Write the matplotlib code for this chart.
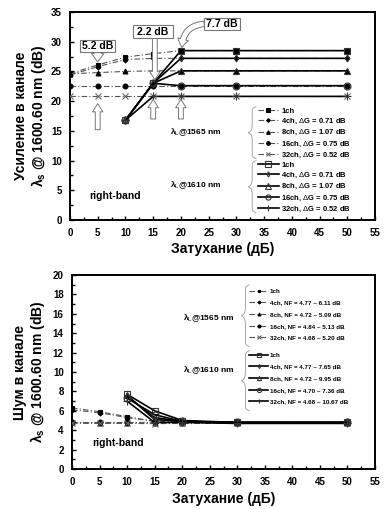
import numpy as np
import matplotlib
matplotlib.use('Agg')
import matplotlib.pyplot as plt
from matplotlib.lines import Line2D
from matplotlib.patches import FancyBboxPatch

plt.rcParams['font.family'] = ['Liberation Sans', 'DejaVu Sans']
plt.rcParams['mathtext.fontset'] = 'custom'
plt.rcParams['mathtext.rm'] = 'Liberation Sans'
plt.rcParams['mathtext.it'] = 'Liberation Sans:bold'
plt.rcParams['mathtext.bf'] = 'Liberation Sans:bold'

# attenuation points (dB)
x_1565 = [0, 5, 10, 15, 20, 30, 50]
x_1610 = [10, 15, 20, 30, 50]
channels = ['1ch', '4ch', '8ch', '16ch', '32ch']

# gain, pump @1565 nm
gain_1565 = {
    '1ch': [24.6, 26.1, 27.4, 28.0, 28.5, 28.5, 28.5],
    '4ch': [24.4, 25.8, 27.0, 27.2, 27.2, 27.2, 27.2],
    '8ch': [24.6, 24.8, 25.0, 25.1, 25.1, 25.1, 25.1],
    '16ch': [22.6, 22.6, 22.6, 22.6, 22.6, 22.6, 22.6],
    '32ch': [20.8, 20.8, 20.8, 20.8, 20.8, 20.8, 20.8],
}
# gain, pump @1610 nm
gain_1610 = {
    '1ch': [16.8, 23.0, 28.5, 28.5, 28.5],
    '4ch': [16.8, 23.0, 27.2, 27.2, 27.2],
    '8ch': [16.8, 23.0, 25.1, 25.1, 25.1],
    '16ch': [16.8, 23.0, 22.6, 22.6, 22.6],
    '32ch': [16.8, 20.8, 20.8, 20.8, 20.8],
}
dG = ['', '0.71', '1.07', '0.75', '0.52']

# noise figure, pump @1565 nm
nf_1565 = {
    '1ch': [6.3, 5.9, 5.4, 4.9, 4.8, 4.8, 4.8],
    '4ch': [6.1, 5.8, 5.3, 4.9, 4.8, 4.8, 4.77],
    '8ch': [4.8, 4.75, 4.75, 4.72, 4.75, 4.75, 4.75],
    '16ch': [4.84, 4.84, 4.84, 4.84, 4.84, 4.84, 4.84],
    '32ch': [4.7, 4.7, 4.7, 4.68, 4.7, 4.7, 4.7],
}
# noise figure, pump @1610 nm
nf_1610 = {
    '1ch': [7.7, 6.0, 5.0, 4.8, 4.8],
    '4ch': [7.5, 5.3, 4.9, 4.8, 4.8],
    '8ch': [7.6, 5.1, 4.9, 4.8, 4.8],
    '16ch': [7.3, 5.6, 4.9, 4.8, 4.8],
    '32ch': [7.0, 4.8, 4.8, 4.7, 4.7],
}
nf_1565_rng = ['', '4.77 ~ 6.11', '4.72 ~ 5.09', '4.84 ~ 5.13', '4.68 ~ 5.20']
nf_1610_rng = ['', '4.77 ~ 7.65', '4.72 ~ 9.95', '4.70 ~ 7.36', '4.68 ~ 10.67']

# styles
st_1565 = {
    '1ch': dict(marker='s', ms=3.5, mfc='black', mec='black'),
    '4ch': dict(marker='D', ms=2.5, mfc='black', mec='black'),
    '8ch': dict(marker='^', ms=3.5, mfc='black', mec='black'),
    '16ch': dict(marker='o', ms=3.5, mfc='black', mec='black'),
    '32ch': dict(marker='x', ms=4.5, mfc='none', mec='#666666'),
}
st_1610 = {
    '1ch': dict(marker='s', ms=5, mfc='none', mec='#333333'),
    '4ch': dict(marker='d', ms=3.5, mfc='none', mec='#333333'),
    '8ch': dict(marker='^', ms=5, mfc='none', mec='#333333'),
    '16ch': dict(marker='o', ms=5, mfc='none', mec='#333333'),
    '32ch': dict(marker='+', ms=5.5, mfc='none', mec='#333333'),
}
dash_kw = dict(color='#555555', lw=0.8, dashes=(5, 2, 1, 2))
solid_kw = dict(color='black', lw=1.2)


def brace(ax, x, y0, y1, w):
    # curly brace in axes coordinates, tip pointing left
    ym = (y0 + y1) / 2
    h = (y1 - y0) / 2
    s = np.linspace(0, 1, 120)
    xs = x + w * 0.5 * (1 - np.exp(-14 * s)) + w * 0.5 * np.clip((s - 0.88) / 0.12, 0, 1) ** 2
    ax.plot(xs, ym + h * s, color='#999999', lw=0.6, transform=ax.transAxes, clip_on=False)
    ax.plot(xs, ym - h * s, color='#999999', lw=0.6, transform=ax.transAxes, clip_on=False)


def style_axes(ax, ymax, ymajor, yminor):
    ax.set_xlim(0, 55)
    ax.set_ylim(0, ymax)
    ax.set_xticks(np.arange(0, 56, 5))
    ax.set_xticks(np.arange(0, 56, 2.5), minor=True)
    ax.set_yticks(np.arange(0, ymax + 0.1, ymajor))
    ax.set_yticks(np.arange(0, ymax + 0.1, yminor), minor=True)
    ax.tick_params(which='both', direction='in', labelsize=7, pad=6)
    ax.tick_params(which='major', length=3, width=1)
    ax.tick_params(which='minor', length=2, width=1)
    for lab in ax.get_xticklabels() + ax.get_yticklabels():
        lab.set_fontweight('bold')
    for sp in ax.spines.values():
        sp.set_linewidth(1.4)
    ax.set_xlabel('Затухание (дБ)', fontsize=10, fontweight='bold', labelpad=3)


def block_arrow(ax, x0, y0, x1, y1, width=0.35, head=0.9, hl=1.0):
    ax.annotate('', xy=(x1, y1), xytext=(x0, y0),
                arrowprops=dict(arrowstyle='simple,head_width=%g,head_length=%g,tail_width=%g' % (head, hl, width),
                                fc='white', ec='#777777', lw=0.7, shrinkA=0, shrinkB=0), zorder=5)


fig = plt.figure(figsize=(3.85, 5.09), dpi=100)

# ---------- gain ----------
ax1 = fig.add_axes([70 / 385, 289 / 509, 305 / 385, 208 / 509])
for ch in channels:
    ax1.plot(x_1565, gain_1565[ch], **dash_kw, **st_1565[ch], mew=0.8, zorder=3)
for ch in channels:
    ax1.plot(x_1610, gain_1610[ch], **solid_kw, **st_1610[ch], mew=0.8, zorder=3)
style_axes(ax1, 35, 5, 2.5)
ax1.set_ylabel('Усиление в канале\n$\\lambda_{s}$ @ 1600.60 nm (dB)', fontsize=10,
               fontweight='bold', labelpad=2, linespacing=1.1)

for xa, y0, y1 in [(5, 15.2, 19.6), (15, 17.0, 20.3), (20, 17.0, 20.3)]:
    block_arrow(ax1, xa, y0, xa, y1, width=0.35, head=0.75, hl=0.6)

for txt, (bx, by, bw, bh) in [('5.2 dB', (1.8, 28.3, 6.3, 2.0)),
                               ('2.2 dB', (11.4, 30.6, 7.2, 2.2)),
                               ('7.7 dB', (24.2, 32.0, 6.4, 2.0))]:
    ax1.add_patch(FancyBboxPatch((bx, by), bw, bh, boxstyle='square,pad=0', fc='white',
                                 ec='#777777', lw=0.8, zorder=6))
    ax1.text(bx + bw / 2, by + bh / 2, txt, ha='center', va='center', fontsize=7.5,
             fontweight='bold', zorder=7)
block_arrow(ax1, 5, 28.3, 5, 26.6, width=0.5, head=0.9, hl=0.6)
block_arrow(ax1, 15.3, 30.6, 15.3, 23.6, width=0.35, head=0.75, hl=0.6)
ax1.annotate('', xy=(20.2, 29.0), xytext=(24.2, 33.0),
             arrowprops=dict(arrowstyle='simple,head_width=0.8,head_length=0.6,tail_width=0.4',
                             connectionstyle='arc3,rad=0.45', fc='white', ec='#777777', lw=0.7,
                             shrinkA=0, shrinkB=0), zorder=5)

ax1.text(3.4, 4.0, 'right-band', fontsize=7.5, fontweight='bold', va='center')
ax1.text(18.0, 14.8, '$\\lambda_{\\rm L}$@1565 nm', fontsize=6, fontweight='bold', va='center')
ax1.text(18.0, 5.9, '$\\lambda_{\\rm L}$@1610 nm', fontsize=6, fontweight='bold', va='center')
brace(ax1, 0.585, 0.295, 0.545, 0.025)
brace(ax1, 0.585, 0.035, 0.285, 0.025)

lab_top = ['1ch'] + ['%s, $\\Delta$G = %s dB' % (c, d) for c, d in zip(channels[1:], dG[1:])]
h1 = [Line2D([], [], **dash_kw, **st_1565[c], mew=0.8) for c in channels]
h2 = [Line2D([], [], **solid_kw, **st_1610[c], mew=0.8) for c in channels]
kw = dict(frameon=False, handlelength=2.8, handletextpad=0.3, labelspacing=0.27, markerscale=0.75,
          borderpad=0, borderaxespad=0, loc='upper left', prop=dict(weight='bold', size=5.5))
leg1 = ax1.legend(h1, lab_top, bbox_to_anchor=(0.615, 0.542), **kw)
ax1.add_artist(leg1)
ax1.legend(h2, lab_top, bbox_to_anchor=(0.615, 0.282), **kw)

# ---------- noise figure ----------
ax2 = fig.add_axes([72 / 385, 40 / 509, 303 / 385, 194 / 509])
for ch in channels:
    ax2.plot(x_1565, nf_1565[ch], **dash_kw, **st_1565[ch], mew=0.8, zorder=3)
for ch in channels:
    ax2.plot(x_1610, nf_1610[ch], **solid_kw, **st_1610[ch], mew=0.8, zorder=3)
style_axes(ax2, 20, 2, 1)
ax2.set_ylabel('Шум в канале\n$\\lambda_{s}$ @ 1600.60 nm (dB)', fontsize=10,
               fontweight='bold', labelpad=4, linespacing=1.1)
ax2.text(3.6, 2.7, 'right-band', fontsize=7.5, fontweight='bold', va='center')
ax2.text(20.1, 15.6, '$\\lambda_{\\rm L}$@1565 nm', fontsize=6, fontweight='bold', va='center')
ax2.text(20.1, 10.2, '$\\lambda_{\\rm L}$@1610 nm', fontsize=6, fontweight='bold', va='center')
brace(ax2, 0.56, 0.63, 0.95, 0.025)
brace(ax2, 0.56, 0.30, 0.61, 0.025)

lab_b1 = ['1ch'] + ['%s, NF = %s dB' % (c, r) for c, r in zip(channels[1:], nf_1565_rng[1:])]
lab_b2 = ['1ch'] + ['%s, NF = %s dB' % (c, r) for c, r in zip(channels[1:], nf_1610_rng[1:])]
kw2 = dict(frameon=False, handlelength=3.0, handletextpad=0.3, labelspacing=1.0, markerscale=0.6,
           borderpad=0, borderaxespad=0, loc='upper left', prop=dict(weight='bold', size=4.5))
leg3 = ax2.legend(h1, lab_b1, bbox_to_anchor=(0.585, 0.93), **kw2)
ax2.add_artist(leg3)
ax2.legend(h2, lab_b2, bbox_to_anchor=(0.585, 0.60), **kw2)

fig.savefig('out.png', dpi=100)
